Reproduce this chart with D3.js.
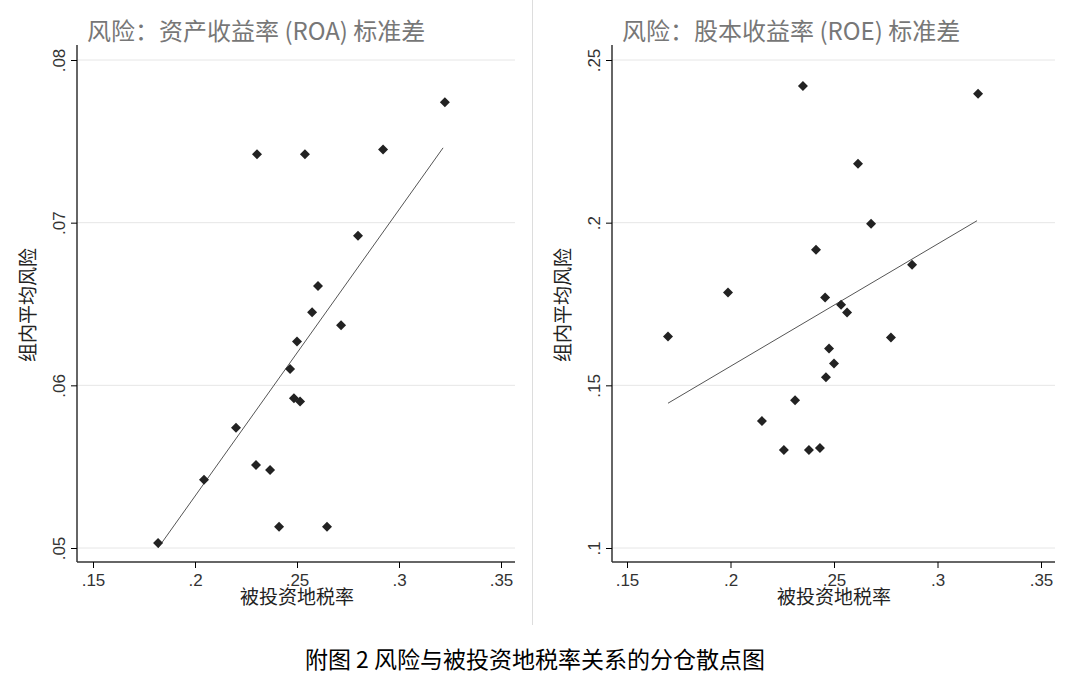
<!DOCTYPE html>
<html><head><meta charset="utf-8">
<script src="https://cdn.jsdelivr.net/npm/d3@7"></script>
<style>body{margin:0;background:#fff}</style></head>
<body><svg id="c" width="1088" height="682"></svg>
<script>
const xTicks=[.15,.2,.25,.3,.35];
const roaTicks=[.05,.06,.07,.08];
const roeTicks=[.1,.15,.2,.25];
const roaX=[.1819,.2044,.2201,.2299,.2368,.2412,.2304,.2539,.2922,.3225,.2799,.2603,.2574,.2716,.2500,.2466,.2485,.2515,.2647];
const roaY=[.0503,.0542,.0574,.0551,.0548,.0513,.0742,.0742,.0745,.0774,.0692,.0661,.0645,.0637,.0627,.0610,.0592,.0590,.0513];
const roaFit=[[.1819,.0500],[.3216,.0746]];
const roeX=[.1698,.1988,.2152,.2258,.2312,.2350,.2379,.2432,.2413,.2457,.2461,.2476,.2500,.2534,.2563,.2616,.2679,.2775,.2877,.3196];
const roeY=[.165,.1785,.139,.1301,.1454,.242,.1301,.1307,.1917,.177,.1525,.1613,.1567,.1748,.1724,.2181,.1997,.1647,.1871,.2396];
const roeFit=[[.1698,.1445],[.3191,.2006]];

const svg=d3.select("#c");
const cjk="'Noto Sans CJK SC',sans-serif";
const fmt=d=>String(d).replace(/^0/,"");
svg.append("rect").attr("x",532).attr("y",0).attr("width",1).attr("height",625).attr("fill","#ddd");
function panel(o){
  const x=d3.scaleLinear().domain([.15,.35]).range(o.xr);
  const y=d3.scaleLinear().domain(o.yd).range([548,60]);
  const g=svg.append("g");
  g.selectAll(".gl").data(o.yt).join("line").attr("x1",o.ax).attr("x2",o.xr[1]+14)
   .attr("y1",d=>y(d)).attr("y2",d=>y(d)).attr("stroke","#e6e6e6");
  const xa=g.append("g").attr("transform","translate(0,562)")
   .call(d3.axisBottom(x).tickValues(xTicks).tickFormat(fmt).tickSize(6).tickSizeOuter(0));
  xa.select(".domain").attr("d",`M${o.ax},0H${o.xr[1]+14}`).attr("stroke","#333").attr("stroke-width",1.5);
  xa.selectAll("text").attr("font-family","Arial,'Liberation Sans'").attr("font-size",17).attr("fill","#333").attr("dy","0.9em");
  const ya=g.append("g").attr("transform",`translate(${o.ax},0)`)
   .call(d3.axisLeft(y).tickValues(o.yt).tickFormat(fmt).tickSize(6).tickSizeOuter(0));
  ya.select(".domain").attr("d","M0,45V562").attr("stroke","#333").attr("stroke-width",1.5);
  ya.selectAll(".tick text").attr("font-family","Arial,'Liberation Sans'").attr("font-size",17).attr("fill","#333")
   .attr("transform","rotate(-90)").attr("x",0).attr("y",-12).attr("dy",0).attr("text-anchor","middle");
  g.append("line").attr("x1",x(o.fit[0][0])).attr("y1",y(o.fit[0][1])).attr("x2",x(o.fit[1][0])).attr("y2",y(o.fit[1][1])).attr("stroke","#555").attr("stroke-width",1);
  g.selectAll(".pt").data(o.xs.map((v,i)=>[v,o.ys[i]])).join("path")
   .attr("d","M0,-5L5,0L0,5L-5,0Z").attr("fill","#222")
   .attr("transform",d=>`translate(${x(d[0])},${y(d[1])})`);
  g.append("text").attr("x",o.ax+10).attr("y",40).attr("font-family",cjk).attr("font-size",24).attr("fill","#777").text(o.title);
  g.append("text").attr("x",(o.xr[0]+o.xr[1])/2).attr("y",604).attr("text-anchor","middle").attr("font-family",cjk).attr("font-size",19).attr("fill","#222").text("被投资地税率");
  g.append("text").attr("transform",`translate(${o.ax-42},305) rotate(-90)`).attr("text-anchor","middle").attr("font-family",cjk).attr("font-size",19).attr("fill","#222").text("组内平均风险");
}
panel({xr:[93,501],ax:77,yd:[.05,.08],yt:roaTicks,xs:roaX,ys:roaY,fit:roaFit,title:"风险：资产收益率 (ROA) 标准差"});
panel({xr:[627,1041],ax:612,yd:[.1,.25],yt:roeTicks,xs:roeX,ys:roeY,fit:roeFit,title:"风险：股本收益率 (ROE) 标准差"});
svg.append("text").attr("x",535).attr("y",668).attr("text-anchor","middle").attr("font-family",cjk).attr("font-size",23).attr("fill","#000").text("附图 2  风险与被投资地税率关系的分仓散点图");
</script></body></html>
